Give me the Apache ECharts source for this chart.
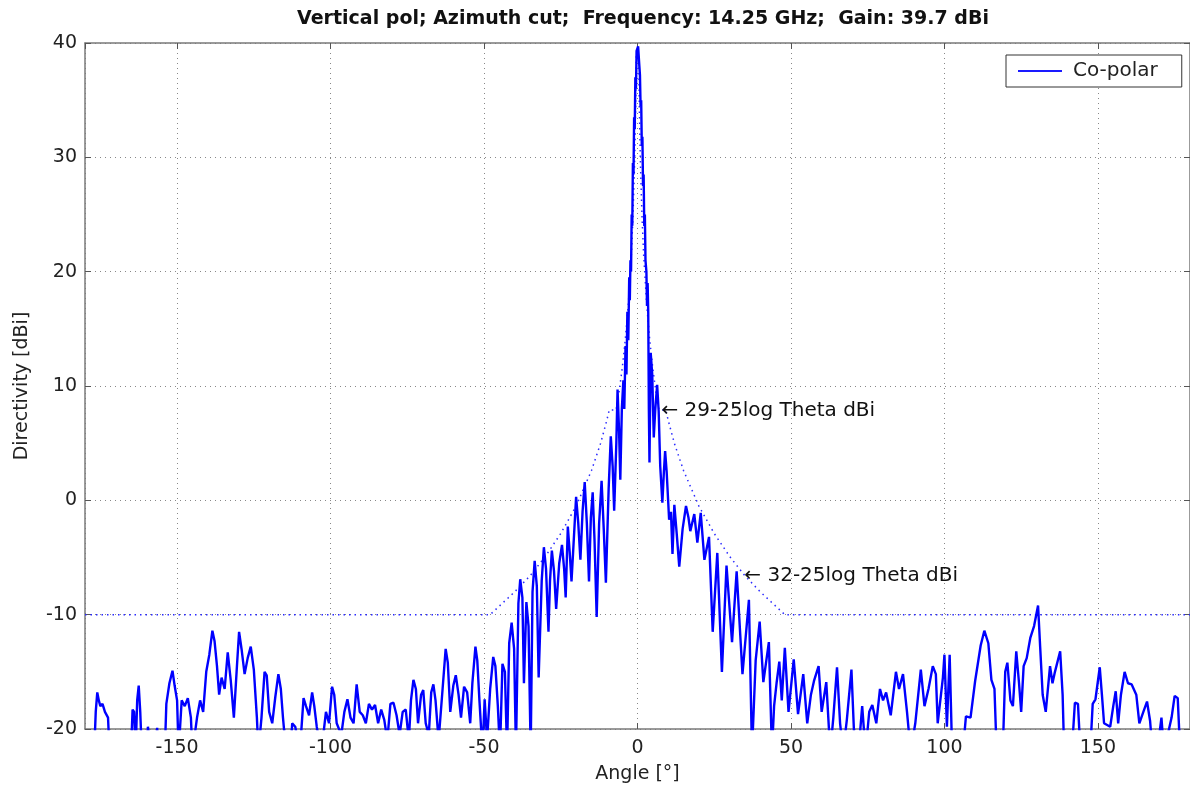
<!DOCTYPE html>
<html>
<head>
<meta charset="utf-8">
<script src="https://cdn.jsdelivr.net/npm/echarts@6/dist/echarts.min.js"></script>
<style>
  html, body { margin: 0; padding: 0; background: #fff; }
  #chart { width: 1190px; height: 794px; }
</style>
</head>
<body>
<div id="chart"></div>
<script>
const angles = [
  -180, -177, -176.5, -176, -175.5, -175, -174.3, -173.5, -172.5, -172,
  -165, -164.5, -164, -163.5, -163, -162.5, -162, -161.5, -160, -159.5,
  -158.5, -157, -156.5, -156, -154, -153.5, -152.5, -151.5, -150.8, -150,
  -149.5, -148.5, -147.5, -146.5, -145.5, -145, -143.5, -142.5, -141.5, -140.5,
  -139.5, -138.5, -137.8, -137, -136.3, -135.5, -134.5, -133.5, -132.5, -131.5,
  -130.5, -129.8, -129, -128, -127, -126, -125, -124, -123.5, -122.5,
  -121.5, -120.8, -120, -119, -118, -117, -116.2, -115.5, -114.5, -113,
  -112.5, -111.5, -110, -108.8, -108, -107, -106, -105.3, -104.5, -103,
  -101.5, -100.5, -99.5, -98.8, -98, -96.5, -95.5, -94.5, -93.5, -92.5,
  -91.5, -90.5, -89.5, -88.5, -87.5, -86.5, -85.5, -84.5, -83.5, -82.5,
  -81.5, -80.5, -79.5, -78.5, -77.5, -76.5, -75.5, -74.5, -73.8, -73,
  -72.2, -71.5, -70.5, -69.8, -69, -68, -67.2, -66.5, -65.8, -64.8,
  -63.5, -62.5, -61.8, -61, -60, -59.2, -58.3, -57.5, -56.5, -55.5,
  -54.5, -53.8, -52.8, -52.2, -51.5, -50.5, -49.8, -49, -48, -47,
  -46.3, -45.5, -44.8, -44, -43.2, -42.5, -41.8, -41, -40.2, -39.6,
  -38.8, -38.2, -37.5, -37, -36.2, -35.5, -34.8, -34.2, -33.5, -32.8,
  -32.2, -31.2, -30.5, -29.8, -29, -28.5, -27.9, -27.2, -26.5, -25.5,
  -24.6, -23.9, -23.4, -22.7, -22.1, -21.5, -20, -19.3, -18.6, -17.9,
  -17.2, -16.5, -15.8, -15.2, -14.6, -14, -13.3, -12.5, -11.7, -11,
  -10.3, -9.4, -8.7, -8.1, -7.6, -6.9, -6.5, -6, -5.6, -5.1,
  -4.6, -4.3, -3.9, -3.6, -3.3, -3.0, -2.7, -2.5, -2.3, -2.1,
  -1.9, -1.7, -1.5, -1.3, -1.1, -0.9, -0.7, -0.5, -0.3, 0.2,
  0.6, 0.8, 1.0, 1.2, 1.4, 1.6, 1.8, 2.0, 2.2, 2.4,
  2.6, 2.9, 3.1, 3.3, 3.5, 3.7,
  3.9, 4.3, 4.8, 5.3, 5.8, 6.4, 6.9, 7.4, 8.1, 8.6,
  9, 9.5, 10.3, 10.9, 11.4, 12, 12.8, 13.6, 14.7, 15.8,
  16.6, 17.2, 18.5, 19.5, 20.6, 21.8, 23.3, 24.5, 26, 27.5,
  29, 30.8, 32.3, 34.2, 36.3, 37.3, 38.5, 39.8, 41, 42.8,
  43.8, 44.5, 45.3, 46.2, 47, 48, 49.2, 50.9, 52.3, 54,
  55.3, 56.5, 57.5, 59, 60, 61.5, 62.8, 63.8, 65, 66,
  67, 68.2, 69.7, 70.8, 72, 73.2, 74.3, 75.5, 76.5, 77.8,
  79, 80, 81, 82.5, 84.2, 85.2, 86.5, 87.8, 89, 90.5,
  92.3, 93.5, 94.8, 96.2, 97.2, 97.8, 99.5, 100, 100.8, 101.7,
  102.5, 106, 107, 108.5, 110, 111.8, 113, 113.4, 114.3, 115.3,
  116.3, 117, 119, 119.8, 120.5, 121.5, 122.3, 123.4, 124.3, 125,
  125.8, 126.8, 128, 129.2, 130.5, 131.2, 132, 133, 134.4, 135.2,
  136, 137.7, 138.5, 139, 141.5, 142.5, 143.5, 144.3, 147.5, 148.3,
  149.2, 150.6, 151.3, 152, 154, 155, 155.8, 156.6, 157.5, 158.7,
  159.8, 161, 162.5, 163.5, 164.8, 166, 167, 167.8, 170, 170.7,
  171.5, 174, 175, 176, 176.8, 180
];
const copolar = [
  -22, -22, -18.5, -16.8, -17.5, -18, -17.8, -18.5, -19, -22,
  -22, -18.3, -18.5, -22, -17.5, -16.2, -18.5, -22, -22, -19.8,
  -22, -22, -19.9, -22, -22, -17.8, -16, -14.9, -16.2, -17.5,
  -22, -17.5, -18, -17.3, -19, -22, -19, -17.5, -18.5, -15,
  -13.5, -11.4, -12.3, -14.5, -17, -15.5, -16.5, -13.3, -15.8, -19,
  -14.5, -11.5, -13, -15.2, -13.8, -12.8, -14.8, -19, -22, -19,
  -15, -15.3, -18.5, -19.5, -17.2, -15.2, -16.5, -19, -22, -22,
  -19.5, -19.8, -22, -17.3, -18, -18.8, -16.8, -18, -19.8, -22,
  -18.5, -19.5, -16.3, -17, -19.5, -20.5, -18.5, -17.4, -19, -19.5,
  -16.1, -18.5, -18.8, -19.5, -17.8, -18.3, -17.9, -19.5, -18.3, -19.2,
  -21, -17.8, -17.7, -18.8, -20.5, -18.5, -18.3, -21, -17.5, -15.7,
  -16.5, -19.5, -17, -16.6, -19.5, -20.5, -16.8, -16.1, -17.5, -21,
  -16.5, -13, -14.2, -18.5, -16.2, -15.3, -17, -19, -16.3, -16.8,
  -19.5, -16, -12.8, -14, -17.5, -22, -17.4, -21, -16.5, -13.7,
  -14.5, -18, -22, -14.3, -15, -22, -12.5, -10.7, -13, -22,
  -9, -6.9, -8.5, -16, -8.9, -11, -22, -8, -5.3, -7.5,
  -15.5, -7, -4.1, -6, -11.5, -7, -4.4, -6.2, -9.5, -5.5,
  -3.9, -6, -8.5, -2.3, -4.5, -7.1, 0.3, -2, -5.2, -1,
  1.6, -2, -7.1, -1.5, 0.7, -3.5, -10.2, -2, 1.7, -2.5,
  -7.2, 1, 5.6, 3, -0.9, 5, 9.7, 6, 1.8, 8,
  10.5, 8, 13.5, 11, 16.5, 14, 19.5, 17.5, 21, 20,
  25, 24, 29.5, 28.5, 33.5, 32.5, 37, 36, 39.3, 39.7,
  38, 37.2, 34.5, 35, 31, 31.8, 27.5, 28.5, 24, 25,
  21, 20, 17, 19, 16.4, 8,
  3.3, 12.9, 11, 5.5, 8, 10.1, 7.8, 3, -0.2, 2.5,
  4.3, 2.5, -1.7, -1, -4.7, -0.4, -3, -5.8, -2.5, -0.5,
  -1.5, -2.7, -1.2, -3.7, -1.1, -5.2, -3.2, -11.5, -4.6, -15,
  -5.7, -12.4, -6.2, -15.2, -8.7, -22, -14, -10.6, -15.9, -12.4,
  -22, -18, -16, -14.1, -17.5, -12.9, -18.5, -13.9, -18.7, -15.2,
  -19.5, -17, -15.8, -14.5, -18.5, -15.9, -22, -19, -14.6, -19.5,
  -22, -19.2, -14.8, -22, -22, -18, -22, -18.5, -17.9, -19.5,
  -16.5, -17.5, -16.8, -18.8, -15, -16.5, -15.2, -18.5, -22, -19.5,
  -14.8, -18, -16.5, -14.5, -15.2, -19.5, -15.5, -13.5, -19.8, -13.5,
  -22, -22, -18.9, -19, -15.8, -12.7, -11.4, -11.3, -12.5, -15.7,
  -16.5, -22, -22, -15, -14.2, -17.5, -18, -13.2, -16, -18.5,
  -14.5, -13.8, -12, -11, -9.2, -12.9, -17, -18.5, -14.5, -16,
  -15, -13.2, -17, -22, -22, -17.7, -17.8, -22, -22, -17.8,
  -17.4, -14.6, -17, -19.5, -19.8, -18, -16.7, -19.5, -17, -15,
  -16, -16.1, -17, -19.5, -18.5, -17.6, -19.3, -22, -20.5, -19,
  -22, -19, -17.1, -17.3, -22, -22
];

// sidelobe envelope (dotted)
const maskAngles = [
  -180, -48, -40, -35, -30, -25, -20, -15, -12, -10, -9.2, -7, -6, -5, -4, -3, -2, -1.5, -1, -0.8, -0.6, -0.4,
  0.4, 0.6, 0.8, 1, 1.5, 2, 3, 4, 5, 6, 7, 9.2, 10, 12, 15, 20, 25, 30, 35, 40, 48, 180
];
const maskValues = [
  -10, -10, -8, -6.6, -4.9, -2.9, -0.5, 2.6, 5, 7, 7.9, 7.9, 9.5, 11.5, 14, 17.1, 21.5, 24.6, 29, 31.4, 34.5, 38.9,
  38.9, 34.5, 31.4, 29, 24.6, 21.5, 17.1, 14, 11.5, 9.5, 7.9, 7.9, 7, 5, 2.6, -0.5, -2.9, -4.9, -6.6, -8, -10, -10
];

const notes = [
  { angle: 7.8, value: 7.8, text: '\u2190 29-25log Theta dBi' },
  { angle: 34.8, value: -6.6, text: '\u2190 32-25log Theta dBi' }
];

const FONT = '"DejaVu Sans", "Liberation Sans", Arial, sans-serif';
const zip = (xs, ys) => xs.map((x, i) => [x, ys[i]]);

const chart = echarts.init(document.getElementById('chart'), null, { renderer: 'canvas' });

const axisCommon = {
  axisLine: { show: true, onZero: false, lineStyle: { color: '#7a7a7a', width: 1.5 } },
  axisTick: { show: true, inside: true, length: 6, lineStyle: { color: '#555' } }
};
const gridLine = { show: true, lineStyle: { color: '#888', type: [1, 4], width: 1 } };

chart.setOption({
  animation: false,
  backgroundColor: '#fff',
  title: {
    text: 'Vertical pol; Azimuth cut;  Frequency: 14.25 GHz;  Gain: 39.7 dBi',
    left: 638,
    textAlign: 'center',
    top: 5,
    textStyle: { fontFamily: FONT, fontSize: 19, fontWeight: 'bold', color: '#111' }
  },
  legend: {
    data: ['Co-polar'],
    left: 1006,
    top: 55,
    padding: [6, 24, 6, 12],
    borderColor: '#333',
    borderWidth: 1,
    backgroundColor: '#fff',
    icon: 'rect',
    itemWidth: 44,
    itemHeight: 2,
    itemGap: 10,
    textStyle: { fontFamily: FONT, fontSize: 20, color: '#222', padding: [0, 0, 0, 6] }
  },
  grid: { left: 85, width: 1109, top: 43, height: 686 },
  xAxis: [
    Object.assign({}, axisCommon, {
      type: 'value', min: -180, max: 180, splitNumber: 7,
      name: 'Angle [\u00b0]', nameLocation: 'middle', nameGap: 36,
      nameTextStyle: { fontFamily: FONT, fontSize: 19, color: '#222' },
      axisLabel: { showMinLabel: false, showMaxLabel: false, margin: 10,
        fontFamily: FONT, fontSize: 19, color: '#222' },
      splitLine: gridLine
    }),
    Object.assign({}, axisCommon, {
      type: 'value', position: 'top', min: -180, max: 180, splitNumber: 7,
      axisLabel: { show: false }, splitLine: { show: false }
    })
  ],
  yAxis: [
    Object.assign({}, axisCommon, {
      type: 'value', min: -20, max: 40, interval: 10,
      name: 'Directivity [dBi]', nameLocation: 'middle', nameGap: 53,
      nameTextStyle: { fontFamily: FONT, fontSize: 19, color: '#222' },
      axisLabel: { margin: 8, fontFamily: FONT, fontSize: 19, color: '#222' },
      splitLine: gridLine
    }),
    Object.assign({}, axisCommon, {
      type: 'value', position: 'right', min: -20, max: 40, interval: 10,
      axisLabel: { show: false }, splitLine: { show: false }
    })
  ],
  series: [
    {
      name: 'mask',
      type: 'line',
      data: zip(maskAngles, maskValues),
      symbol: 'none',
      silent: true,
      z: 3,
      lineStyle: { color: '#2a2aff', width: 1.5, type: [1.5, 4] }
    },
    {
      name: 'Co-polar',
      type: 'line',
      data: zip(angles, copolar),
      symbol: 'none',
      clip: true,
      z: 4,
      color: '#1a1aff',
      lineStyle: { color: '#0000ff', width: 2.4 }
    },
    {
      name: 'notes',
      type: 'scatter',
      symbolSize: 0,
      silent: true,
      z: 5,
      itemStyle: { opacity: 1 },
      data: notes.map(n => ({ value: [n.angle, n.value], label: { formatter: n.text } })),
      label: {
        show: true, position: 'right', distance: 0, opacity: 1,
        fontFamily: FONT, fontSize: 20, color: '#111'
      }
    }
  ]
});
</script>
</body>
</html>
